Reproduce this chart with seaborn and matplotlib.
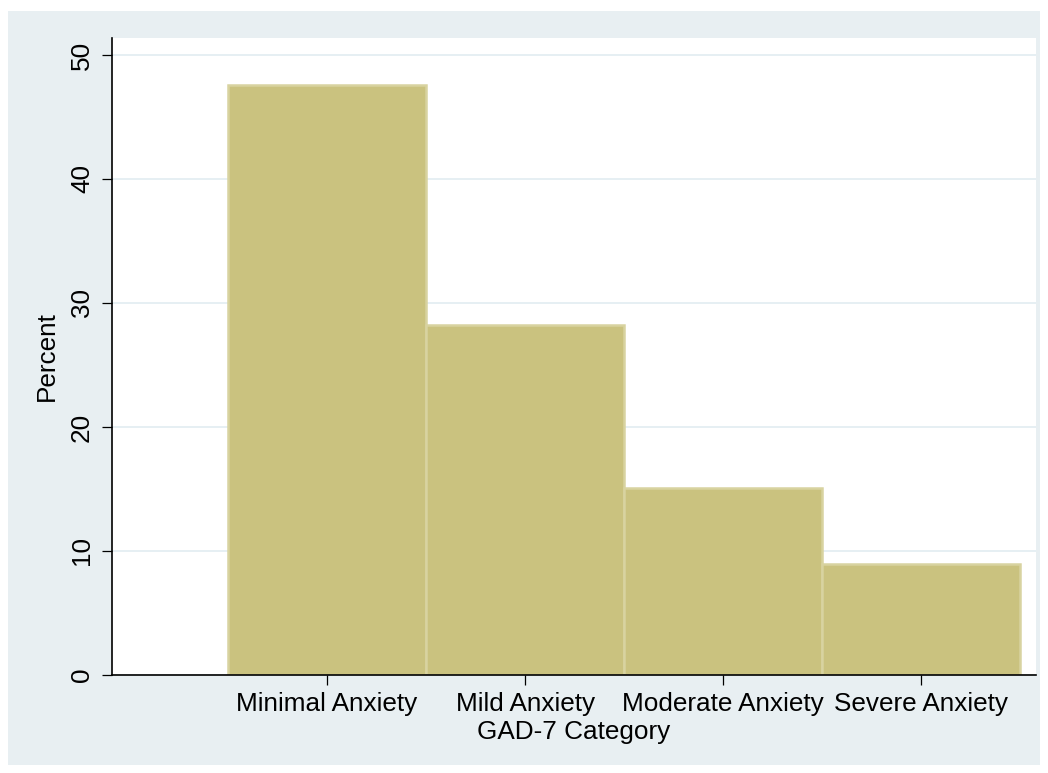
import matplotlib
matplotlib.use("Agg")
import matplotlib.pyplot as plt
import seaborn as sns
import pandas as pd
from matplotlib.patches import Rectangle

# GAD-7 categories and their share of respondents (percent)
categories = ["Minimal Anxiety", "Mild Anxiety", "Moderate Anxiety", "Severe Anxiety"]
percent = [47.6, 28.2, 15.1, 8.95]
y_ticks = [0, 10, 20, 30, 40, 50]

df = pd.DataFrame({"category": categories, "percent": percent})

sns.set_style("white")
plt.rcParams["font.family"] = ["Liberation Sans", "DejaVu Sans"]
plt.rcParams["axes.labelcolor"] = "black"

bg = "#e8eff2"
fig = plt.figure(figsize=(10.48, 7.73), dpi=100)
fig.patch.set_facecolor("white")
# stata-like outer panel with a thin white margin
fig.patches.append(Rectangle((8 / 1048, 8 / 773), 1 - 16 / 1048, 1 - 19 / 773,
                             transform=fig.transFigure, facecolor=bg,
                             edgecolor="none", zorder=-10))

ax = fig.add_axes([112 / 1048, 1 - 675 / 773, 924 / 1048, 637 / 773])
ax.set_facecolor("white")

sns.barplot(data=df, x="category", y="percent", order=categories, width=1.0,
            color="#cac27f", saturation=1, edgecolor="#d8d3a0", linewidth=1.8,
            ax=ax, zorder=2)

ax.set_xlim(-1.086, 3.58)
ax.set_ylim(0, 51.37)
ax.set_yticks(y_ticks)
ax.set_yticklabels([str(t) for t in y_ticks], rotation=90, va="center")

ax.yaxis.grid(True, color="#e6eff3", linewidth=1.4, zorder=0)
ax.xaxis.grid(False)
ax.set_axisbelow(True)

for s in ["top", "right"]:
    ax.spines[s].set_visible(False)
for s in ["left", "bottom"]:
    ax.spines[s].set_color("black")
    ax.spines[s].set_linewidth(1.2)

ax.tick_params(axis="both", direction="out", length=7, width=0.9, color="black",
               labelsize=18.8, labelcolor="black", left=True, bottom=True)
ax.tick_params(axis="y", pad=6)
ax.tick_params(axis="x", pad=5)

ax.set_xlabel("GAD-7 Category", fontsize=18.8, labelpad=3, color="black")
ax.set_ylabel("Percent", fontsize=18.8, labelpad=8, color="black")

fig.savefig("out.png", dpi=100, facecolor=fig.get_facecolor())
